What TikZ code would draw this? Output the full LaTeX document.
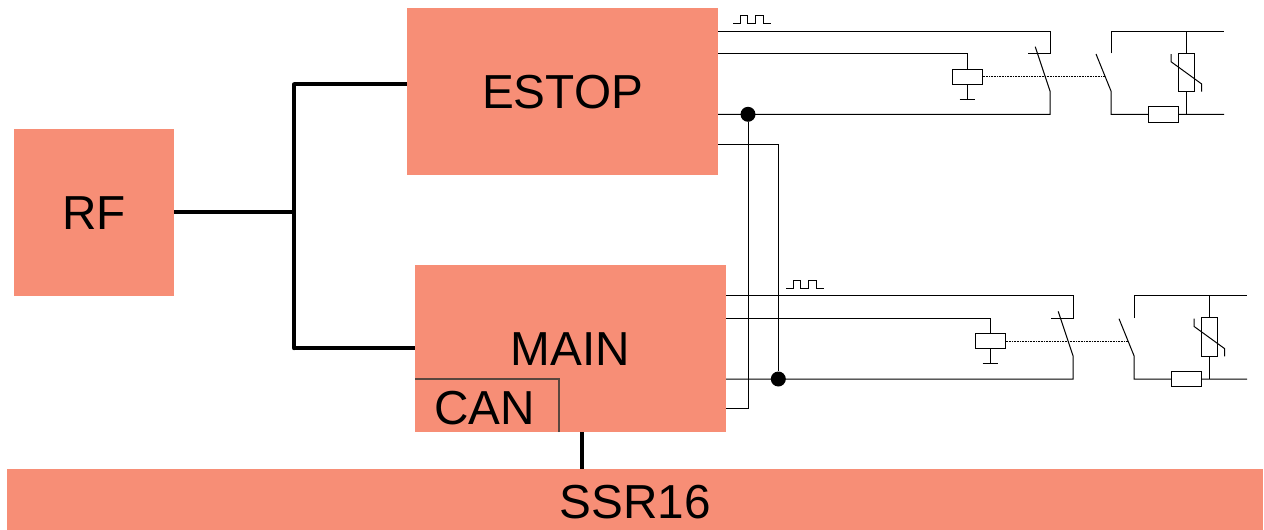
\documentclass[tikz,border=0pt]{standalone}
\usepackage{fontspec}
\setmainfont{Liberation Sans}
\definecolor{blockfill}{HTML}{F78E76}
\definecolor{canline}{HTML}{5A463E}
\tikzset{
  blockbox/.style={fill=blockfill,draw=none,inner sep=0pt,font=\fontsize{47.7}{48}\selectfont,text=black,text height=34pt,text depth=0pt},
  bus/.style={line width=4pt,black},
  wire/.style={line width=1pt,black},
  part/.style={draw=black,line width=1pt,fill=white,inner sep=0pt},
  junction/.style={circle,fill=black,inner sep=0pt,minimum size=15pt},
  link/.style={line width=1pt,black,dash pattern=on 1pt off 0.6pt}
}
\newcommand{\mkcircuit}[2]{%
  % #1 prefix, #2 source block
  \coordinate (#1top) at (1050,31);
  \coordinate (#1mid) at (967,53.3);
  \coordinate (#1low) at (1050,114.3);
  \node[part,minimum width=30pt,minimum height=15pt] (#1relay) at (967,76.5) {};
  \coordinate (#1gnd) at (967,99);
  \coordinate (#1gl) at (959.5,99);
  \coordinate (#1gr) at (975,99);
  \coordinate (#1sa) at (1050,53.3);
  \coordinate (#1sb) at (1028,53.3);
  \coordinate (#1sc) at (1035.2,46.7);
  \coordinate (#1sd) at (1050,91);
  \coordinate (#1le) at (1105,76.5);
  \coordinate (#1ra) at (1111,53.3);
  \coordinate (#1rb) at (1111,31);
  \coordinate (#1rc) at (1224,31);
  \coordinate (#1rd) at (1096,54);
  \coordinate (#1re) at (1111,91);
  \coordinate (#1rf) at (1111,114.3);
  \coordinate (#1rg) at (1224,114.3);
  \coordinate (#1va) at (1186,31);
  \coordinate (#1vb) at (1186,114.3);
  \draw[wire] (#2.east |- #1top) -- (#1top) -- (#1sa) -- (#1sb);
  \draw[wire] (#2.east |- #1mid) -- (#1mid) -- (#1relay.north);
  \draw[wire] (#1relay.south) -- (#1gnd);
  \draw[wire] (#1gl) -- (#1gr);
  \draw[wire] (#1sc) -- (#1sd) -- (#1low) -- (#2.east |- #1low);
  \draw[link] (#1relay.east) -- (#1le);
  \draw[wire] (#1ra) -- (#1rb) -- (#1rc);
  \draw[wire] (#1rd) -- (#1re) -- (#1rf) -- (#1rg);
  \draw[wire] (#1va) -- (#1vb);
  \node[part,minimum width=30.5pt,minimum height=15.5pt] (#1res) at (1163.5,114.3) {};
  \node[part,minimum width=15.5pt,minimum height=38.5pt] (#1var) at (1186.3,72.3) {};
  \coordinate (#1xa) at (1171,54);
  \coordinate (#1xb) at (1171,61.7);
  \coordinate (#1xc) at (1201.7,84);
  \coordinate (#1xd) at (1201.7,91.7);
  \draw[wire] (#1xa) -- (#1xb) -- (#1xc) -- (#1xd);
}
\newcommand{\mkpulse}[1]{%
  \coordinate (#1p0) at (733,23.3);
  \coordinate (#1p1) at (770.8,23.3);
  \draw[wire] (#1p0) -- ++(7.4,0) -- ++(0,-7.6) -- ++(7.4,0) -- ++(0,7.6) -- ++(7.8,0) -- ++(0,-7.6) -- ++(7.8,0) -- ++(0,7.6) -- (#1p1);
}
\begin{document}
\begin{tikzpicture}[x=1pt,y=-1pt]
\useasboundingbox (0,0) rectangle (1264,530);
\node[blockbox,minimum width=160pt,minimum height=167pt] (rf) at (94,212.5) {RF};
\node[blockbox,minimum width=311pt,minimum height=167pt] (estop) at (562.5,91.5) {ESTOP};
\node[blockbox,minimum width=311pt,minimum height=167pt] (main) at (570.5,348.5) {MAIN};
\node[blockbox,text height=38pt,minimum width=1256pt,minimum height=61pt] (ssr) at (635,499.5) {SSR16};
\node[blockbox,fill=none,text height=38.5pt,minimum width=144pt,minimum height=53pt] (can) at (484.5,405.5) {CAN};
\coordinate (cancorner) at (559,379);
\coordinate (canleft) at (415,379);
\coordinate (canfoot) at (559,432);
\draw[line width=1.2pt,canline] (canfoot) -- (cancorner) -- (canleft);
% thick buses
\coordinate (busmid) at (294.2,212.2);
\coordinate (bustop) at (294.2,84.2);
\coordinate (busbot) at (294.2,348.2);
\coordinate (cantap) at (581.7,432);
\draw[bus] (rf.east |- busmid) -- (busmid);
\draw[bus,line cap=round] (bustop) -- (busbot);
\draw[bus] (bustop) -- (estop.west |- bustop);
\draw[bus] (busbot) -- (main.west |- busbot);
\draw[bus] (cantap) -- (cantap |- ssr.north);
% circuits
\mkcircuit{a}{estop}
\mkpulse{a}
\begin{scope}[shift={(53,265)}]
\mkpulse{b}
\end{scope}
\begin{scope}[shift={(23,264.7)}]
\mkcircuit{b}{main}
\end{scope}
% junctions and cross links
\node[junction] (dota) at (748,114.3) {};
\node[junction] (dotb) at (778.3,379) {};
\coordinate (loopa) at (748,408.7);
\coordinate (loopb) at (778.3,144.7);
\draw[wire] (dota) -- (loopa) -- (main.east |- loopa);
\draw[wire] (estop.east |- loopb) -- (loopb) -- (dotb);
\end{tikzpicture}
\end{document}
